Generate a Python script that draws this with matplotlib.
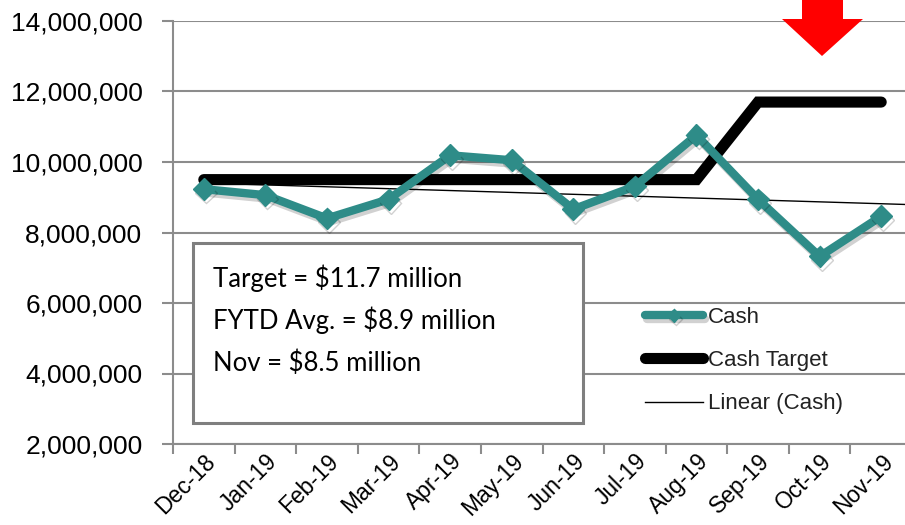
import numpy as np
import matplotlib
matplotlib.use("Agg")
import matplotlib.pyplot as plt
from matplotlib.patches import Polygon
import matplotlib.patheffects as pe

months = ["Dec-18", "Jan-19", "Feb-19", "Mar-19", "Apr-19", "May-19",
          "Jun-19", "Jul-19", "Aug-19", "Sep-19", "Oct-19", "Nov-19"]
cash = [9.23e6, 9.06e6, 8.40e6, 8.94e6, 10.19e6, 10.05e6,
        8.66e6, 9.31e6, 10.76e6, 8.94e6, 7.32e6, 8.46e6]
cash_target = [9.5e6] * 9 + [11.7e6] * 3
yticks = [2e6, 4e6, 6e6, 8e6, 10e6, 12e6, 14e6]
box_lines = ["Target = $11.7 million", "FYTD Avg. = $8.9 million", "Nov = $8.5 million"]

plt.rcParams['font.family'] = ['Liberation Sans', 'DejaVu Sans']

W, H = 905, 525
fig = plt.figure(figsize=(W / 100, H / 100), dpi=100)
ax = fig.add_axes([173 / W, 1 - 444 / H, 739 / W, 423 / H])

x = np.arange(len(months))
grid_c = '#8c8c8c'

ax.set_ylim(2e6, 14e6)
ax.set_xlim(-0.5, len(months) - 0.5)
ax.set_yticks(yticks)
ax.set_yticklabels([f"{v:,.0f}" for v in yticks], fontsize=19)
ax.yaxis.grid(True, color=grid_c, linewidth=1.5, zorder=0)
ax.set_axisbelow(True)

ax.set_xticks(np.arange(len(months) + 1) - 0.5, minor=False)
ax.set_xticklabels([])
ax.set_xticks(x, minor=True)
ax.set_xticklabels(months, minor=True, rotation=45, ha='right',
                   rotation_mode='anchor', fontsize=16.5)
ax.tick_params(axis='x', which='minor', length=0, pad=4)
ax.tick_params(axis='x', which='major', length=7, width=1.5, color=grid_c)
ax.tick_params(axis='y', length=8, width=1.5, color=grid_c, pad=14)

for s in ['top', 'right']:
    ax.spines[s].set_visible(False)
for s in ['left', 'bottom']:
    ax.spines[s].set_color(grid_c)
    ax.spines[s].set_linewidth(1.5)

# trend line (linear fit of cash)
coef = np.polyfit(x, cash, 1)
xt = np.array([0, len(months) - 0.5])
ax.plot(xt, np.polyval(coef, xt), color='black', linewidth=1.0, zorder=3,
        label='Linear (Cash)')

# cash target
ax.plot(x, cash_target, color='black', linewidth=8, solid_capstyle='round',
        solid_joinstyle='miter', zorder=4, label='Cash Target')

# cash
teal = '#2E8C88'
ax.plot(x, cash, color=teal, linewidth=6, marker='D', markersize=11,
        markerfacecolor=teal, markeredgecolor=teal, zorder=5, label='Cash',
        solid_capstyle='round',
        path_effects=[pe.SimpleLineShadow(offset=(1.5, -2.5), shadow_color='black',
                                          alpha=0.18), pe.Normal()])

# legend
handles, labels = ax.get_legend_handles_labels()
order = [2, 1, 0]
leg = ax.legend([handles[i] for i in order], [labels[i] for i in order],
                loc='upper left', bbox_to_anchor=(645 / W, 1 - 307 / H),
                bbox_transform=fig.transFigure, frameon=False, fontsize=16,
                handlelength=2.6, handletextpad=0.25, labelspacing=1.0,
                borderaxespad=0, borderpad=0, markerscale=0.6)
for t in leg.get_texts():
    t.set_color('#222222')

# text box
bx0, by0, bx1, by1 = 193, 243, 583, 423
rect = plt.Rectangle((bx0 / W, 1 - by1 / H), (bx1 - bx0) / W, (by1 - by0) / H,
                     transform=fig.transFigure, facecolor='white',
                     edgecolor='#7f7f7f', linewidth=2.2, zorder=6)
fig.patches.append(rect)
for i, line in enumerate(box_lines):
    fig.text(213 / W, 1 - (278 + i * 42.5) / H, line, fontsize=18.5,
             family=['Lato', 'DejaVu Sans'], va='center', ha='left',
             color='black', zorder=7)

# red arrow
arrow_px = [(802, 0), (843, 0), (843, 19), (863, 19), (822, 56), (782, 19), (802, 19)]
arrow = Polygon([(px / W, 1 - py / H) for px, py in arrow_px], closed=True,
                transform=fig.transFigure, facecolor='#ff0000', edgecolor='none',
                zorder=8)
fig.patches.append(arrow)

fig.savefig("out.png", dpi=100)
